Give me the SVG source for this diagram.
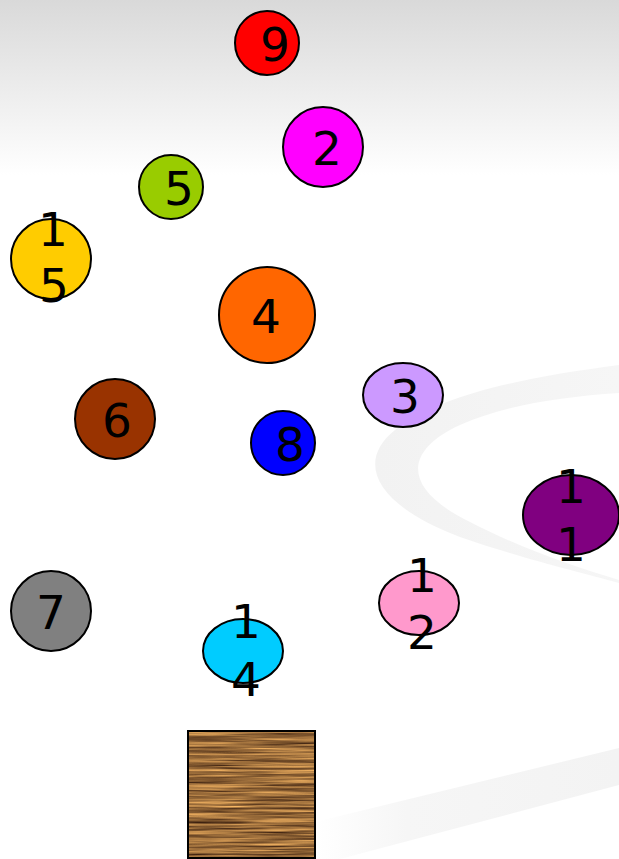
<svg xmlns="http://www.w3.org/2000/svg" width="619" height="859" viewBox="0 0 619 859">
<style>
.n{stroke:#000;stroke-width:2}
.t{font-family:"DejaVu Sans","Verdana",sans-serif;font-size:47px;fill:#000;text-anchor:middle}
</style>
<defs>
<linearGradient id="bg" x1="0" y1="0" x2="0" y2="1">
<stop offset="0" stop-color="#d9d9d9"/>
<stop offset="1" stop-color="#ffffff"/>
</linearGradient>
<linearGradient id="band" x1="0" y1="0" x2="1" y2="0">
<stop offset="0" stop-color="#ffffff"/>
<stop offset="0.3" stop-color="#f6f6f6"/>
<stop offset="1" stop-color="#f3f3f3"/>
</linearGradient>
<linearGradient id="sw" x1="0" y1="0" x2="1" y2="0">
<stop offset="0" stop-color="#f2f2f2"/>
<stop offset="1" stop-color="#f6f6f6"/>
</linearGradient>
<filter id="wood" x="0" y="0" width="1" height="1" color-interpolation-filters="sRGB">
<feTurbulence type="fractalNoise" baseFrequency="0.012 0.5" numOctaves="3" seed="7"/>
<feColorMatrix type="matrix" values="1.0 0 0 0 0.1  0.8 0 0 0 0.02  0.45 0 0 0 0.0  0 0 0 0 1"/>
</filter>
</defs>
<rect width="619" height="859" fill="#fff"/>
<rect width="619" height="175" fill="url(#bg)"/>
<path d="M619,365 C520,378 440,395 395,430 C355,462 375,505 460,537 C520,558 580,572 619,583 L619,580 C575,567 520,548 470,522 C400,488 405,450 460,425 C505,405 560,397 619,393 Z" fill="url(#sw)"/>
<path d="M315,822 L619,748 L619,785 L340,859 L315,859 Z" fill="url(#band)"/>
<g id="node9"><ellipse class="n" cx="267" cy="43" rx="32" ry="32" fill="#ff0000"/><text class="t" x="275" y="61">9</text></g>
<g id="node2"><ellipse class="n" cx="323" cy="147" rx="40" ry="40" fill="#ff00ff"/><text class="t" x="327" y="165">2</text></g>
<g id="node5"><ellipse class="n" cx="171" cy="187" rx="32" ry="32" fill="#99cc00"/><text class="t" x="179" y="205">5</text></g>
<g id="node15"><ellipse class="n" cx="51" cy="259" rx="40" ry="40" fill="#ffcc00"/><text class="t" x="53" y="246">1</text><text class="t" x="54" y="302">5</text></g>
<g id="node4"><ellipse class="n" cx="267" cy="315" rx="48" ry="48" fill="#ff6600"/><text class="t" x="266" y="333">4</text></g>
<g id="node3"><ellipse class="n" cx="403" cy="395" rx="40" ry="32" fill="#cc99ff"/><text class="t" x="405" y="413">3</text></g>
<g id="node6"><ellipse class="n" cx="115" cy="419" rx="40" ry="40" fill="#993300"/><text class="t" x="117" y="437">6</text></g>
<g id="node8"><ellipse class="n" cx="283" cy="443" rx="32" ry="32" fill="#0000ff"/><text class="t" x="290" y="461">8</text></g>
<g id="node11"><ellipse class="n" cx="571" cy="515" rx="48" ry="40" fill="#800080"/><text class="t" x="571" y="503">1</text><text class="t" x="571" y="561">1</text></g>
<g id="node7"><ellipse class="n" cx="51" cy="611" rx="40" ry="40" fill="#808080"/><text class="t" x="51" y="629">7</text></g>
<g id="node12"><ellipse class="n" cx="419" cy="603" rx="40" ry="32" fill="#ff99cc"/><text class="t" x="422" y="592">1</text><text class="t" x="422" y="649">2</text></g>
<g id="node14"><ellipse class="n" cx="243" cy="651" rx="40" ry="32" fill="#00ccff"/><text class="t" x="246" y="638">1</text><text class="t" x="246" y="696">4</text></g>
<g id="woodbox"><rect x="188" y="731" width="127" height="127" filter="url(#wood)"/><rect x="188" y="731" width="127" height="127" fill="none" stroke="#000" stroke-width="2"/></g>
<g id="connectors"></g>
</svg>
